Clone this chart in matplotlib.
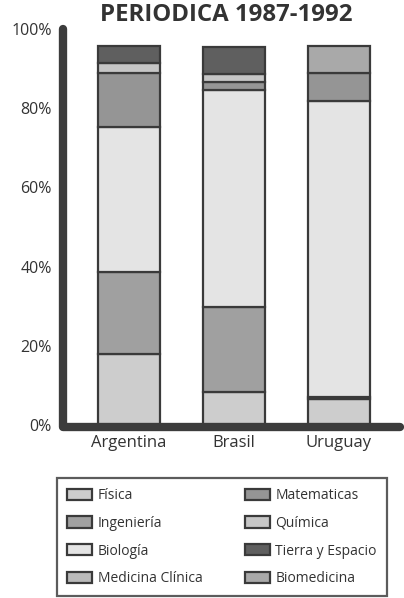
import numpy as np
import matplotlib
matplotlib.use("Agg")
import matplotlib.pyplot as plt
from matplotlib.patches import Patch

plt.rcParams['font.family'] = ['Open Sans', 'DejaVu Sans']

# Share of publications by field (%), 1987-1992
countries = ["Argentina", "Brasil", "Uruguay"]
fields = ["Física", "Ingeniería", "Biología", "Medicina Clínica",
          "Matematicas", "Química", "Tierra y Espacio", "Biomedicina"]
fisica = [18.0, 8.4, 6.5]
ingenieria = [20.6, 21.3, 0.5]
biologia = [36.7, 54.9, 74.9]
medicina_clinica = [0.0, 0.0, 0.0]
matematicas = [13.5, 2.1, 7.1]
quimica = [2.5, 1.9, 0.0]
tierra_espacio = [4.5, 6.9, 0.0]
biomedicina = [0.0, 0.0, 6.8]
yticks = [0, 20, 40, 60, 80, 100]
ytick_labels = ["0%", "20%", "40%", "60%", "80%", "100%"]
title = "PERIODICA 1987-1992"

series = [fisica, ingenieria, biologia, medicina_clinica,
          matematicas, quimica, tierra_espacio, biomedicina]
colors = ["#cdcdcd", "#a0a0a0", "#e4e4e4", "#bababa",
          "#959595", "#c6c6c6", "#5f5f5f", "#a9a9a9"]
edge = "#3a3a3a"
text_c = "#333333"

W, H = 404, 598
fig = plt.figure(figsize=(W / 100, H / 100), dpi=100)
fig.patch.set_facecolor("white")

ax_left, ax_right, y0_px, y100_px = 63, 400, 425, 29
ax = fig.add_axes([ax_left / W, 1 - y0_px / H,
                   (ax_right - ax_left) / W, (y0_px - y100_px) / H])

x = np.arange(len(countries))
bar_w = 0.59
bottom = np.zeros(len(countries))
for vals, col in zip(series, colors):
    v = np.asarray(vals, dtype=float)
    m = v > 0
    if m.any():
        ax.bar(x[m], v[m], bottom=bottom[m], width=bar_w, color=col,
               edgecolor=edge, linewidth=1.6, zorder=2)
    bottom += v

ax.set_xlim(-0.629, 2.581)
ax.set_ylim(0, 100)
for s in ax.spines.values():
    s.set_visible(False)

# thick rounded axis frame
x0, x1 = ax.get_xlim()
ax.plot([x0, x0, x1], [100, -0.4, -0.4], color="#3c3c3c", lw=6,
        solid_capstyle="round", solid_joinstyle="round",
        clip_on=False, zorder=3)

ax.set_yticks(yticks)
ax.set_yticklabels(ytick_labels)
ax.set_xticks(x)
ax.set_xticklabels(countries)
ax.tick_params(axis="y", length=0, pad=8, labelsize=11.5, labelcolor=text_c)
ax.tick_params(axis="x", length=0, pad=7, labelsize=12, labelcolor=text_c)

fig.text(226 / W, 1 - 15 / H, title, ha="center", va="center",
         fontsize=17.3, fontweight="bold", color=text_c)

handles = [Patch(facecolor=c, edgecolor=edge, linewidth=1.6) for c in colors]
leg = fig.legend(handles, fields, ncol=2, loc="upper left",
                 bbox_to_anchor=(57 / W, 1 - 478 / H), borderaxespad=0,
                 fontsize=10, frameon=True, fancybox=False,
                 handlelength=1.8, handleheight=0.85, handletextpad=0.4,
                 labelspacing=0.92, columnspacing=3.05, borderpad=0.72)
leg.get_frame().set_edgecolor("#333333")
leg.get_frame().set_linewidth(1.6)
for t in leg.get_texts():
    t.set_color(text_c)

fig.savefig("out.png", dpi=100, facecolor="white")
